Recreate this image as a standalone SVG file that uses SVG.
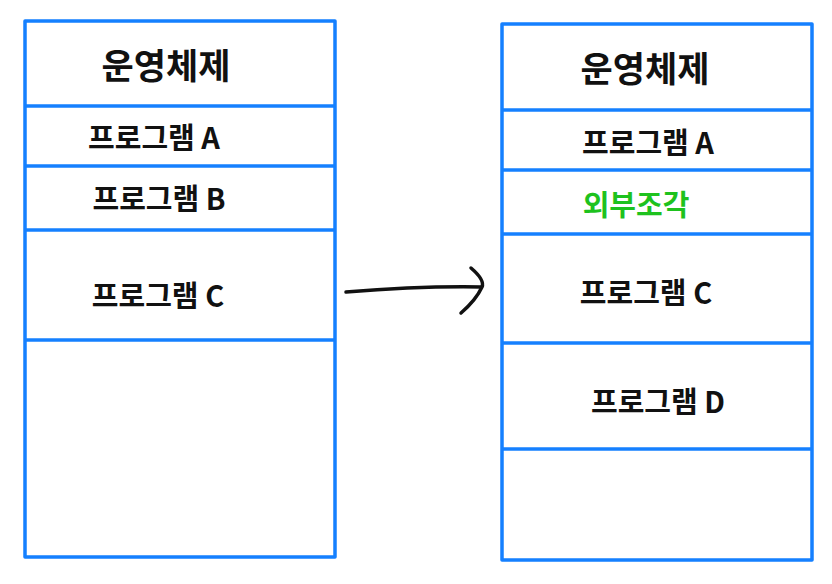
<svg xmlns="http://www.w3.org/2000/svg" width="832" height="584" viewBox="0 0 832 584">
<style>
.box{fill:none;stroke:#1580ff;stroke-width:3.5;stroke-linejoin:round}
.div{stroke:#1580ff;stroke-width:3.5}
.t{font-family:"Noto Sans CJK KR","Noto Sans",sans-serif;fill:#111;text-anchor:middle;dominant-baseline:central;font-weight:700}
.os{font-size:35px}
.p{font-size:29px}
.g{fill:#1ec21e}
.arr{fill:none;stroke:#111;stroke-width:3.5;stroke-linecap:round;stroke-linejoin:round}
</style>
<rect width="832" height="584" fill="#fff"/>
<g id="memory-before">
<rect class="box" x="25" y="21" width="310" height="536"/>
<line class="div" x1="25" y1="106" x2="335" y2="106"/>
<line class="div" x1="25" y1="166" x2="335" y2="166"/>
<line class="div" x1="25" y1="230" x2="335" y2="230"/>
<line class="div" x1="25" y1="340" x2="335" y2="340"/>
</g>
<g id="l-os"><text class="t os" x="166" y="63">운영체제</text></g>
<g id="l-a"><text class="t p" x="154" y="136">프로그램 A</text></g>
<g id="l-b"><text class="t p" x="159" y="197">프로그램 B</text></g>
<g id="l-c"><text class="t p" x="158" y="294">프로그램 C</text></g>
<g id="memory-after">
<rect class="box" x="502" y="24" width="310" height="536"/>
<line class="div" x1="502" y1="110" x2="812" y2="110"/>
<line class="div" x1="502" y1="170" x2="812" y2="170"/>
<line class="div" x1="502" y1="234" x2="812" y2="234"/>
<line class="div" x1="502" y1="343" x2="812" y2="343"/>
<line class="div" x1="502" y1="449" x2="812" y2="449"/>
</g>
<g id="r-os"><text class="t os" x="645" y="66">운영체제</text></g>
<g id="r-a"><text class="t p" x="648" y="141">프로그램 A</text></g>
<g id="r-frag"><text class="t p g" x="636" y="203">외부조각</text></g>
<g id="r-c"><text class="t p" x="646" y="291">프로그램 C</text></g>
<g id="r-d"><text class="t p" x="658" y="400">프로그램 D</text></g>
<g id="connectors">
<path class="arr" d="M346 292 Q420 286 481 287"/>
<path class="arr" d="M471 268 Q485 280 482 287 Q476 300 461 313"/>
</g>
</svg>
